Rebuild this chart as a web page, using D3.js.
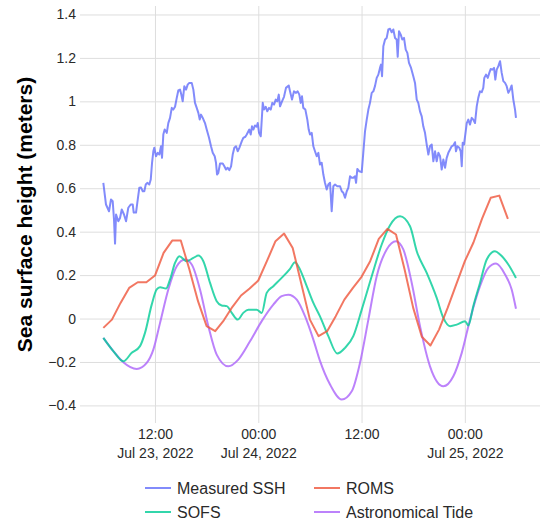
<!DOCTYPE html>
<html>
<head>
<meta charset="utf-8">
<script src="https://cdn.jsdelivr.net/npm/d3@7"></script>
<style>
  html, body { margin: 0; padding: 0; background: #fff; }
  svg { display: block; font-family: "Liberation Sans", Arial, sans-serif; }
</style>
</head>
<body>
<svg id="chart" width="540" height="520"></svg>
<script>
// ---------------- data ----------------
const startTime = "2022-07-23T06:00:00Z";   // hour 0 of every series

const sshHours = [0,0.31,0.66,0.89,1.09,1.24,1.36,1.48,1.74,1.94,2.14,2.40,2.64,2.90,3.18,3.42,3.53,3.80,3.95,4.18,4.38,4.58,4.76,4.93,5.11,5.34,5.51,5.66,5.81,5.92,6.12,6.32,6.51,6.70,6.82,6.97,7.13,7.37,7.55,7.75,7.95,8.13,8.33,8.53,8.71,8.91,9.06,9.22,9.41,9.61,9.80,9.99,10.27,10.46,10.65,10.85,11.04,11.20,11.35,11.55,11.81,12.01,12.28,12.51,12.71,12.94,13.09,13.21,13.36,13.56,13.87,14.06,14.25,14.45,14.64,14.84,15.03,15.22,15.42,15.61,15.80,16.08,16.26,16.50,16.66,16.96,17.12,17.27,17.43,17.62,17.82,17.94,18.09,18.29,18.44,18.52,18.67,18.87,19.05,19.25,19.45,19.63,19.83,20.03,20.21,20.38,20.53,20.76,20.99,21.22,21.54,21.69,21.92,22.15,22.39,22.58,22.77,22.93,23.08,23.23,23.47,23.70,23.86,24.01,24.21,24.40,24.59,24.79,24.98,25.17,25.37,25.56,25.75,25.95,26.14,26.34,26.53,26.72,26.92,27.18,27.50,27.70,27.88,28.08,28.28,28.46,28.66,28.86,29.04,29.24,29.36,29.51,29.74,30.02,30.20,30.40,30.60,30.79,30.98,31.18,31.37,31.56,31.76,31.95,32.14,32.26,32.38,32.53,32.73,32.92,33.11,33.31,33.50,33.69,33.89,34.08,34.20,34.35,34.55,34.73,34.93,35.13,35.32,35.51,35.75,36.01,36.21,36.41,36.59,36.79,36.99,37.17,37.37,37.57,37.76,37.95,38.15,38.34,38.54,38.73,38.92,39.12,39.31,39.50,39.70,39.89,40.08,40.28,40.47,40.66,40.86,40.97,41.13,41.36,41.52,41.64,41.75,41.90,42.10,42.22,42.40,42.60,42.80,42.98,43.18,43.38,43.56,43.76,43.96,44.14,44.26,44.46,44.66,44.84,45.00,45.19,45.39,45.54,45.70,45.89,46.09,46.28,46.47,46.67,46.86,47.05,47.25,47.44,47.63,47.83,47.94];
const sshValues = [0.625,0.525,0.494,0.548,0.54,0.456,0.345,0.479,0.448,0.463,0.502,0.479,0.448,0.51,0.525,0.525,0.488,0.488,0.534,0.602,0.603,0.586,0.586,0.617,0.625,0.617,0.64,0.717,0.77,0.786,0.747,0.763,0.755,0.793,0.74,0.847,0.87,0.855,0.9,0.924,0.97,0.962,0.975,1.016,1.05,1.054,1.031,1.0,1.07,1.054,1.077,1.085,1.085,1.054,0.993,0.97,0.947,0.916,0.939,0.924,0.9,0.87,0.832,0.793,0.763,0.747,0.717,0.663,0.671,0.714,0.714,0.701,0.686,0.694,0.683,0.701,0.755,0.786,0.793,0.77,0.786,0.816,0.832,0.837,0.847,0.87,0.847,0.885,0.87,0.889,0.883,0.9,0.855,0.839,0.939,0.993,0.962,0.975,0.954,0.97,0.962,0.993,0.985,1.008,1.0,1.031,0.977,1.0,1.021,1.062,1.073,1.046,1.008,1.046,1.039,1.046,1.031,0.993,1.023,0.97,0.962,0.916,0.87,0.847,0.855,0.793,0.77,0.747,0.763,0.709,0.717,0.663,0.625,0.594,0.617,0.625,0.494,0.609,0.617,0.609,0.609,0.586,0.579,0.556,0.586,0.602,0.655,0.648,0.648,0.655,0.625,0.689,0.678,0.674,0.763,0.862,0.916,0.962,0.993,1.039,1.046,1.07,1.108,1.123,1.154,1.169,1.116,1.254,1.285,1.292,1.331,1.334,1.318,1.331,1.292,1.285,1.205,1.323,1.307,1.285,1.292,1.238,1.223,1.177,1.154,1.116,1.085,1.008,0.993,0.954,0.931,0.885,0.855,0.801,0.755,0.793,0.801,0.724,0.77,0.724,0.763,0.747,0.686,0.732,0.694,0.74,0.763,0.778,0.793,0.797,0.812,0.77,0.793,0.786,0.77,0.701,0.809,0.801,0.862,0.9,0.916,0.893,0.924,0.916,0.9,0.977,1.016,1.046,1.042,1.062,1.108,1.123,1.108,1.131,1.149,1.146,1.154,1.1,1.146,1.162,1.185,1.131,1.093,1.085,1.07,1.039,1.054,1.073,1.008,0.962,0.924];

// ROMS: hourly values from hour 0 to hour 47
const romsHours = d3.range(0, 48);
const romsValues = [-0.043,-0.005,0.072,0.141,0.167,0.167,0.198,0.302,0.359,0.359,0.226,0.08,-0.035,-0.058,-0.008,0.054,0.106,0.138,0.175,0.264,0.356,0.391,0.325,0.16,-0.005,-0.081,-0.058,0.011,0.087,0.141,0.192,0.264,0.367,0.413,0.387,0.226,0.049,-0.084,-0.124,-0.051,0.049,0.157,0.264,0.35,0.46,0.556,0.566,0.459];

const sofsHours = [0,1.16,2.32,3.30,4.26,4.84,5.62,6.20,6.59,7.28,7.75,8.33,8.83,9.69,10.46,11.04,11.62,12.40,13.17,13.75,14.34,14.92,15.61,16.26,16.84,17.82,18.40,18.98,19.75,20.72,21.69,22.27,22.65,23.63,24.40,25.17,26.14,27.18,28.08,29.04,30.02,31.18,32.34,33.31,34.47,35.63,36.41,37.57,38.73,39.50,40.28,41.05,42.02,42.40,42.98,43.76,44.54,45.50,46.09,47.05,47.94];
const sofsValues = [-0.089,-0.15,-0.197,-0.158,-0.127,-0.066,0.064,0.134,0.144,0.138,0.18,0.256,0.287,0.264,0.279,0.29,0.264,0.164,0.08,0.06,0.057,0.026,-0.005,0.026,0.041,0.041,0.026,0.118,0.149,0.187,0.229,0.259,0.241,0.149,0.072,0.01,-0.081,-0.161,-0.135,-0.081,0.041,0.195,0.341,0.43,0.471,0.425,0.31,0.21,0.095,0.003,-0.035,-0.028,-0.012,-0.032,0.057,0.164,0.272,0.31,0.295,0.249,0.187];

const tideHours = [0,1.16,2.32,3.88,5.04,5.81,6.59,7.55,8.53,9.49,10.27,11.23,12.20,13.17,14.52,15.68,17.04,18.40,19.75,20.72,21.49,22.47,23.43,24.40,25.17,26.34,27.70,28.86,29.82,30.79,31.76,32.92,34.00,34.85,35.83,36.79,37.95,39.50,40.66,41.64,42.60,43.76,44.73,45.62,46.67,47.44,47.94];
const tideValues = [-0.089,-0.15,-0.201,-0.232,-0.204,-0.143,-0.02,0.134,0.241,0.272,0.249,0.134,-0.035,-0.166,-0.22,-0.189,-0.105,-0.012,0.064,0.103,0.11,0.087,0.011,-0.097,-0.195,-0.304,-0.373,-0.335,-0.204,-0.005,0.195,0.318,0.356,0.318,0.164,-0.035,-0.22,-0.312,-0.266,-0.158,-0.005,0.149,0.233,0.253,0.203,0.134,0.045];

const seriesNames = ["Measured SSH", "ROMS", "SOFS", "Astronomical Tide"];
const seriesColors = ["#636efa", "#ef553b", "#00cc96", "#ab63fa"];

const xTickHours = [6, 18, 30, 42];
const xTickTimes = ["12:00", "00:00", "12:00", "00:00"];
const xTickDates = ["Jul 23, 2022", "Jul 24, 2022", "", "Jul 25, 2022"];

const yTicks = [-0.4, -0.2, 0, 0.2, 0.4, 0.6, 0.8, 1, 1.2, 1.4];
const yTickLabels = ["\u22120.4", "\u22120.2", "0", "0.2", "0.4", "0.6", "0.8", "1", "1.2", "1.4"];
const yTitle = "Sea surface height (meters)";

// ---------------- chart ----------------
const t0 = new Date(startTime).getTime();
const toDate = h => new Date(t0 + h * 3600000);

const plot = { left: 80, right: 540, top: 6, bottom: 423 };
const svg = d3.select("#chart");

const x = d3.scaleUtc()
  .domain([toDate(-2.71), toDate(50.73)])
  .range([plot.left, plot.right]);
const y = d3.scaleLinear()
  .domain([-0.481, 1.439])
  .range([plot.bottom, plot.top]);

const gridColor = "#dedede";
const textColor = "#2a2a2a";

// x gridlines + labels
const xAxis = d3.axisBottom(x)
  .tickValues(xTickHours.map(toDate))
  .tickSize(-(plot.bottom - plot.top))
  .tickFormat("");
const gx = svg.append("g")
  .attr("transform", `translate(0,${plot.bottom})`)
  .call(xAxis);
gx.select(".domain").remove();
gx.selectAll(".tick line").attr("stroke", gridColor).attr("stroke-width", 1);
gx.selectAll(".tick").each(function(d, i) {
  const t = d3.select(this).select("text")
    .attr("fill", textColor)
    .attr("font-size", 14)
    .attr("y", 0)
    .attr("dy", null);
  t.append("tspan").attr("x", 0).attr("y", 16).text(xTickTimes[i]);
  if (xTickDates[i]) t.append("tspan").attr("x", 0).attr("y", 35).text(xTickDates[i]);
});

// y gridlines + labels
const yAxis = d3.axisLeft(y)
  .tickValues(yTicks)
  .tickSize(-(plot.right - plot.left))
  .tickPadding(4)
  .tickFormat((d, i) => yTickLabels[i]);
const gy = svg.append("g")
  .attr("transform", `translate(${plot.left},0)`)
  .call(yAxis);
gy.select(".domain").remove();
gy.selectAll(".tick line").attr("stroke", gridColor).attr("stroke-width", 1);
gy.selectAll(".tick text").attr("fill", textColor).attr("font-size", 14);

// y title
svg.append("text")
  .attr("transform", `translate(32,${(plot.top + plot.bottom) / 2}) rotate(-90)`)
  .attr("text-anchor", "middle")
  .attr("font-size", 21)
  .attr("font-weight", "bold")
  .attr("fill", "#000")
  .text(yTitle);

// lines
const seriesData = [
  sshHours.map((h, i) => [h, sshValues[i]]),
  romsHours.map((h, i) => [h, romsValues[i]]),
  sofsHours.map((h, i) => [h, sofsValues[i]]),
  tideHours.map((h, i) => [h, tideValues[i]])
];
const curves = [d3.curveLinear, d3.curveLinear, d3.curveMonotoneX, d3.curveMonotoneX];
const drawOrder = [3, 2, 1, 0];
drawOrder.forEach(k => {
  const line = d3.line()
    .x(d => x(toDate(d[0])))
    .y(d => y(d[1]))
    .curve(curves[k]);
  svg.append("path")
    .datum(seriesData[k])
    .attr("fill", "none")
    .attr("stroke", seriesColors[k])
    .attr("stroke-opacity", 0.8)
    .attr("stroke-width", 2)
    .attr("stroke-linejoin", "round")
    .attr("d", line);
});

// legend
const legendPos = [[145, 488], [314, 488], [145, 512], [314, 512]];
seriesNames.forEach((name, i) => {
  const [lx, ly] = legendPos[i];
  const g = svg.append("g").attr("transform", `translate(${lx},${ly})`);
  g.append("line")
    .attr("x1", 0).attr("x2", 26).attr("y1", 0).attr("y2", 0)
    .attr("stroke", seriesColors[i]).attr("stroke-opacity", 0.8).attr("stroke-width", 2);
  g.append("text")
    .attr("x", 32).attr("y", 6)
    .attr("font-size", 16)
    .attr("fill", textColor)
    .text(name);
});
</script>
</body>
</html>
